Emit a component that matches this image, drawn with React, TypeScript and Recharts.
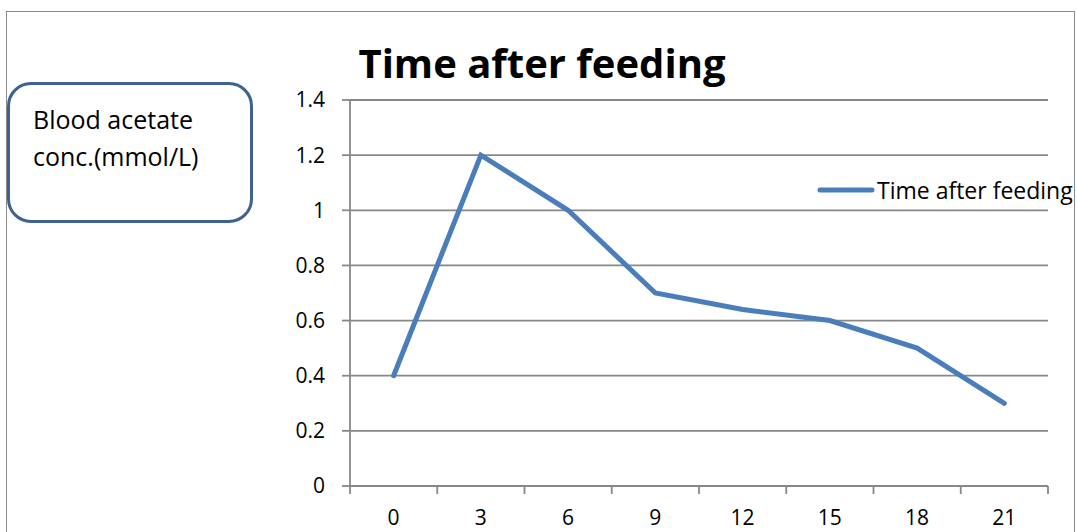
import { LineChart, Line, CartesianGrid, XAxis, YAxis } from 'recharts';

const days = ['0', '3', '6', '9', '12', '15', '18', '21'];
const acetate = [0.4, 1.2, 1.0, 0.7, 0.64, 0.6, 0.5, 0.3];
const yTicks = [0, 0.2, 0.4, 0.6, 0.8, 1, 1.2, 1.4];

const seriesName = 'Time after feeding';
const titleText = 'Time after feeding';
const boxLines = ['Blood acetate', 'conc.(mmol/L)'];

const W = 1077;
const H = 532;
const X_AXIS_H = 30;
const MARGIN = { top: 100, right: 29, bottom: 532 - 486 - X_AXIS_H, left: 0 };
const Y_AXIS_W = 350;
const PLOT_W = W - MARGIN.left - MARGIN.right - Y_AXIS_W;
const BAND = PLOT_W / days.length;

const FONT = '"Open Sans", "Noto Sans", sans-serif';
const GRID = '#888888';
const LINE = '#4a7ebb';

const data = days.map((d, i) => ({ day: d, value: acetate[i] }));

// excel style: ticks sit between categories, labels in the middle
const XTick = (props: any) => {
  const { x, y, payload, index } = props;
  const last = index === days.length - 1;
  return (
    <g>
      <line x1={x - BAND / 2} y1={y - 8} x2={x - BAND / 2} y2={y} stroke={GRID} strokeWidth={1.8} />
      {last && <line x1={x + BAND / 2} y1={y - 8} x2={x + BAND / 2} y2={y} stroke={GRID} strokeWidth={1.8} />}
      <text x={x} y={y + 31} textAnchor="middle" fontSize={21} fontFamily={FONT} fill="#000">
        {payload.value}
      </text>
    </g>
  );
};

export default function App() {
  return (
    <div style={{ position: 'absolute', left: 0, top: 0, width: W, height: H, background: '#fff', overflow: 'hidden' }}>
      {/* outer chart border */}
      <div
        style={{
          position: 'absolute',
          left: 6,
          top: 11,
          width: 1067,
          height: 540,
          borderLeft: `1.5px solid ${GRID}`,
          borderTop: `1.5px solid ${GRID}`,
          borderRight: `1.5px solid ${GRID}`,
        }}
      />
      <LineChart width={W} height={H} data={data} margin={MARGIN} style={{ overflow: 'visible' }}>
        <CartesianGrid vertical={false} stroke={GRID} strokeWidth={1.8} />
        <XAxis
          dataKey="day"
          height={X_AXIS_H}
          padding={{ left: BAND / 2, right: BAND / 2 }}
          tickLine={false}
          tickSize={8}
          tickMargin={0}
          axisLine={{ stroke: GRID, strokeWidth: 1.8 }}
          tick={<XTick />}
          interval={0}
        />
        <YAxis
          width={Y_AXIS_W}
          domain={[0, 1.4]}
          ticks={yTicks}
          interval={0}
          tickSize={8}
          tickMargin={17}
          axisLine={{ stroke: GRID, strokeWidth: 1.8 }}
          tickLine={{ stroke: GRID, strokeWidth: 1.8 }}
          tick={{ fontSize: 21, fontFamily: FONT, fill: '#000' }}
        />
        <Line
          type="linear"
          dataKey="value"
          name={seriesName}
          stroke={LINE}
          strokeWidth={5}
          strokeLinecap="round"
          dot={false}
          isAnimationActive={false}
        />
      </LineChart>
      {/* title */}
      <div
        style={{
          position: 'absolute',
          left: 342,
          width: 400,
          top: 38,
          textAlign: 'center',
          fontFamily: FONT,
          fontWeight: 700,
          fontSize: 40,
          lineHeight: '50px',
          color: '#000',
        }}
      >
        {titleText}
      </div>
      {/* legend */}
      <div style={{ position: 'absolute', left: 817, top: 174, display: 'flex', alignItems: 'center', whiteSpace: 'nowrap' }}>
        <svg width={58} height={10}>
          <line x1={3} y1={5} x2={55} y2={5} stroke={LINE} strokeWidth={5} strokeLinecap="round" />
        </svg>
        <span style={{ fontFamily: FONT, fontSize: 23, lineHeight: '32px', color: '#000', marginLeft: 2 }}>{seriesName}</span>
      </div>
      {/* y label callout box */}
      <div
        style={{
          position: 'absolute',
          left: 7,
          top: 82,
          width: 240,
          height: 135,
          border: '3.5px solid #3d6191',
          borderRadius: 24,
          boxSizing: 'content-box',
          background: '#fff',
        }}
      />
      <div
        style={{
          position: 'absolute',
          left: 33,
          top: 101,
          fontFamily: FONT,
          fontSize: 25,
          lineHeight: '37px',
          color: '#000',
          whiteSpace: 'nowrap',
        }}
      >
        {boxLines.map((l) => (
          <div key={l}>{l}</div>
        ))}
      </div>
    </div>
  );
}
